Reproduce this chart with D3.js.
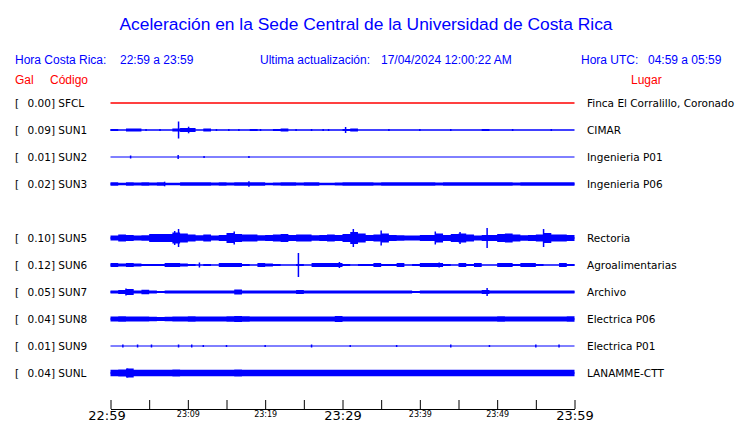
<!DOCTYPE html>
<html lang="es">
<head>
<meta charset="UTF-8">
<title>Aceleración en la Sede Central</title>
<script src="https://d3js.org/d3.v7.min.js"></script>
<style>
  body, html { margin: 0; background: #fff; }
  text { font-family: "DejaVu Sans", sans-serif; }
  .hdr { font-family: "Liberation Sans", Arial, sans-serif; }
</style>
</head>
<body>
<div id="chart"></div>
<script>
// stations, top to bottom (slot 4 is empty in the original)
const codes = ["SFCL", "SUN1", "SUN2", "SUN3", "SUN5", "SUN6", "SUN7", "SUN8", "SUN9", "SUNL"];
const places = ["Finca El Corralillo, Coronado", "CIMAR", "Ingenieria P01", "Ingenieria P06",
  "Rectoria", "Agroalimentarias", "Archivo", "Electrica P06", "Electrica P01", "LANAMME-CTT"];
const peakGal = [0.00, 0.09, 0.01, 0.02, 0.10, 0.12, 0.05, 0.04, 0.01, 0.04];
const rowSlot = [0, 1, 2, 3, 5, 6, 7, 8, 9, 10];

// time axis, minutes after 22:59
const tickMinutes = [0, 5, 10, 15, 20, 25, 30, 35, 40, 45, 50, 55, 60];
const tickLabels = ["22:59", "", "23:09", "", "23:19", "", "23:29", "", "23:39", "", "23:49", "", "23:59"];

// envelope per minute (half amplitude, relative units)
const envSFCL = new Array(60).fill(0);
const envSUN1 = [1,0,1.5,1.5,0,0,0,0,1.5,2,2,0,1.5,0,0,0,0,0,1,0,0,1,1.5,0,0,0,0,0,0,0,1,1.5,0,0,0,0,0,0,0,0,0,0,0,0,0,0,0,0,1,0,0,0,0,0,0,0,0,0,0,0];
const envSUN2 = new Array(60).fill(0);
const envSUN3 = [1.8,1.3,1.8,1.5,1.8,1.5,1.8,1.2,1.2,1.8,1.8,1.8,1.8,1.5,1.8,1.5,1.8,1.8,1.8,1.8,1.2,1.5,1.8,1.8,1.5,1.8,1.8,1.3,1.2,1.5,1.8,1.8,1.8,1.8,1.5,1.8,1.8,1.8,1.8,1.8,1.8,1.8,1.5,1.8,1.8,1.8,1.8,1.8,1.8,1.8,1.8,1.8,1.5,1.8,1.8,1.8,1.8,1.8,1.8,1.8];
const envSUN5 = [2.5,3.5,3,2.5,2.8,4,4,4,5.5,4.5,3.5,2.8,3.5,2.5,3,5,4,3.5,3.5,2.8,3,3.5,4,3,3.5,3.5,2.8,3,3.5,3,4,6,4.5,3,3.5,4.5,3,2.8,2.5,2.5,3,3,4.5,3,4,4.5,3.5,2.5,3,3,4,4.5,3.5,2.8,3,3.5,5,3.5,3.5,3];
const envSUN6 = [2,1.5,2,1.5,1,1,1,2,2,1.5,1,0,1,0,2,2,2,1,0,2,1.5,1,0,0,1,0,2,2,2,2,1,0,1,1,2,1,1,2,0,1,2,2,2,1,0,2,1,2,0,0,2,2,1,2,2,1,0,0,2,1];
const envSUN7 = [1.5,2,3,1.5,2.2,1.5,1,1.5,1.5,1.5,1.5,1.5,1.5,1.5,1.5,1.5,2.5,1.5,1.5,1.5,1.5,1.5,1.5,1.5,2,1.5,1.5,1.5,1.5,1.5,1.5,1.5,1.5,1.5,1.5,1.5,1.5,1.5,1.5,1,1.5,1.5,1.5,1.5,1.5,1.5,1.5,1.5,2,1.5,1.5,1.5,1.5,1.5,1.5,1.5,1.5,1.5,1.5,1.5];
const envSUN8 = [2.5,2.8,2.5,2.5,2.5,2.2,2,2.2,2.5,2.5,2.8,2.5,2.5,2.5,2.5,2.8,3,2.8,2.5,2.5,2.5,2.5,2.5,2.5,2.5,2.5,2.5,2.5,2.5,3,2.5,2.5,2.5,2.5,2.5,2.5,2.5,2.5,2.5,2.5,2.5,2.5,2.5,2.5,2.5,2.5,2.5,2.5,2.5,2.5,2.8,2.5,2.5,2.5,2.5,2.5,2.5,2.5,2.5,2.8];
const envSUN9 = new Array(60).fill(0);
const envSUNL = [3.3,3.5,4.5,3.3,3.3,3.3,3.3,3.3,3.5,3.3,3.3,3.3,3.3,3.3,3.3,3.3,3.5,3.3,3.3,3.3,3.3,3.3,3.3,3.3,3.3,3.3,3.3,3.3,3.3,3.3,3.3,3.3,3.3,3.3,3.3,3.3,3.3,3.3,3.3,3.3,3.3,3.3,3.3,3.3,3.3,3.3,3.3,3.3,3.3,3.3,3.3,3.3,3.3,3.3,3.3,3.3,3.3,3.3,3.3,3.3];

// short peaks [minute, half amplitude]
const pkSFCL = [];
const pkSUN1 = [[8.8, 8.5], [10.1, 3.3], [30.4, 3], [0.3, 1], [4.6, 1], [6.4, 1], [13.7, 1], [15.3, 1], [16.6, 1], [18.9, 1], [19.4, 1], [24, 1], [26, 1], [27.5, 1], [28.2, 1], [36, 1], [40, 1], [44, 1], [52, 1], [57, 1]];
const pkSUN2 = [[2.6, 1.5], [8.75, 2], [12.1, 1], [17.9, 1]];
const pkSUN3 = [[17.9, 2.8], [7, 2.3]];
const pkSUN5 = [[8.3, 7], [8.8, 9], [31.4, 9], [35, 7.5], [42, 6.5], [48.7, 10], [56, 9], [16, 6.5], [45.2, 6]];
const pkSUN6 = [[24.3, 12], [29.6, 3], [42.5, 2.5], [11.5, 2.5]];
const pkSUN7 = [[48.7, 4], [2, 3.5]];
const pkSUN8 = [];
const pkSUN9 = [[1.6, 1.5], [3.5, 1.5], [5.3, 1.5], [8.8, 1.5], [10.5, 1.5], [12, 1], [15, 1], [20, 1], [26, 1.5], [31, 1], [37, 1], [44, 1.5], [49, 1], [55, 1.5], [58, 1.5]];
const pkSUNL = [[2.2, 4.5]];

const envs = [envSFCL, envSUN1, envSUN2, envSUN3, envSUN5, envSUN6, envSUN7, envSUN8, envSUN9, envSUNL];
const peaks = [pkSFCL, pkSUN1, pkSUN2, pkSUN3, pkSUN5, pkSUN6, pkSUN7, pkSUN8, pkSUN9, pkSUNL];

// line width of the quiet trace
const baseWidth = [1.3, 1.5, 1, 1.3, 1.5, 1.3, 1.3, 1.5, 1, 1.5];

const width = 740, height = 423;
const blue = "#0000ff", red = "#ff0000";

const svg = d3.select("#chart").append("svg")
  .attr("width", width)
  .attr("height", height);

const x = d3.scaleLinear().domain([0, 60]).range([110.5, 574.5]);
const y = d3.scaleLinear().domain([0, 10]).range([103, 373]);
const amp = d3.scaleLinear().domain([0, 10]).range([0, 10]);

// title + header
svg.append("text").attr("class", "hdr")
  .attr("x", 366).attr("y", 30)
  .attr("text-anchor", "middle")
  .style("font-size", "17.4px")
  .attr("fill", blue)
  .text("Aceleración en la Sede Central de la Universidad de Costa Rica");

const hdr = [
  ["Hora Costa Rica:", 15, 64, blue], ["22:59 a 23:59", 120, 64, blue],
  ["Ultima actualización:", 260, 64, blue], ["17/04/2024 12:00:22 AM", 381, 64, blue],
  ["Hora UTC:", 581, 64, blue], ["04:59 a 05:59", 648, 64, blue],
  ["Gal", 15, 84, red], ["Código", 50, 84, red], ["Lugar", 631, 84, red]
];
svg.append("g").selectAll("text").data(hdr).enter().append("text")
  .attr("class", "hdr")
  .attr("x", d => d[1]).attr("y", d => d[2])
  .attr("fill", d => d[3])
  .style("font-size", "12px")
  .text(d => d[0]);

// rows
const rows = svg.append("g").selectAll("g").data(codes).enter().append("g")
  .attr("transform", (d, i) => "translate(0," + y(rowSlot[i]) + ")");

rows.append("text")
  .attr("x", 15).attr("y", 4)
  .style("font-size", "10.5px")
  .text("[");
rows.append("text")
  .attr("x", 27.5).attr("y", 4)
  .style("font-size", "10.5px")
  .text((d, i) => peakGal[i].toFixed(2) + "] " + d);
rows.append("text")
  .attr("x", 587).attr("y", 4)
  .style("font-size", "10.5px")
  .text((d, i) => places[i]);

const area = d3.area()
  .x(d => x(d[0]))
  .y0(d => -amp(d[1]))
  .y1(d => amp(d[1]))
  .curve(d3.curveStepAfter);

rows.each(function (code, i) {
  const g = d3.select(this);
  const col = code === "SFCL" ? red : blue;
  g.append("line")
    .attr("x1", x(0)).attr("x2", x(60))
    .attr("y1", 0).attr("y2", 0)
    .attr("stroke", col)
    .attr("stroke-width", baseWidth[i]);
  const pts = envs[i].map((v, m) => [m, v]);
  pts.push([60, envs[i][59]]);
  g.append("path")
    .attr("d", area(pts))
    .attr("fill", col);
  g.selectAll(".pk").data(peaks[i]).enter().append("line")
    .attr("class", "pk")
    .attr("x1", d => x(d[0])).attr("x2", d => x(d[0]))
    .attr("y1", d => -amp(d[1])).attr("y2", d => amp(d[1]))
    .attr("stroke", col)
    .attr("stroke-width", 1.5);
});

// time axis
const axis = d3.axisBottom(x)
  .tickValues(tickMinutes)
  .tickSize(-9)
  .tickSizeOuter(0)
  .tickFormat((d, i) => tickLabels[i]);

const ax = svg.append("g")
  .attr("transform", "translate(0,409)")
  .call(axis);
ax.select(".domain").attr("stroke", "#000");
ax.selectAll(".tick line").attr("stroke", "#000");
ax.selectAll(".tick text")
  .attr("fill", "#000")
  .attr("dy", 0)
  .attr("y", d => d % 30 === 0 ? 11 : 8)
  .attr("dx", d => d === 0 ? -4 : 0)
  .style("font-family", "DejaVu Sans, sans-serif")
  .style("font-size", d => d % 30 === 0 ? "13px" : "8px");
</script>
</body>
</html>
